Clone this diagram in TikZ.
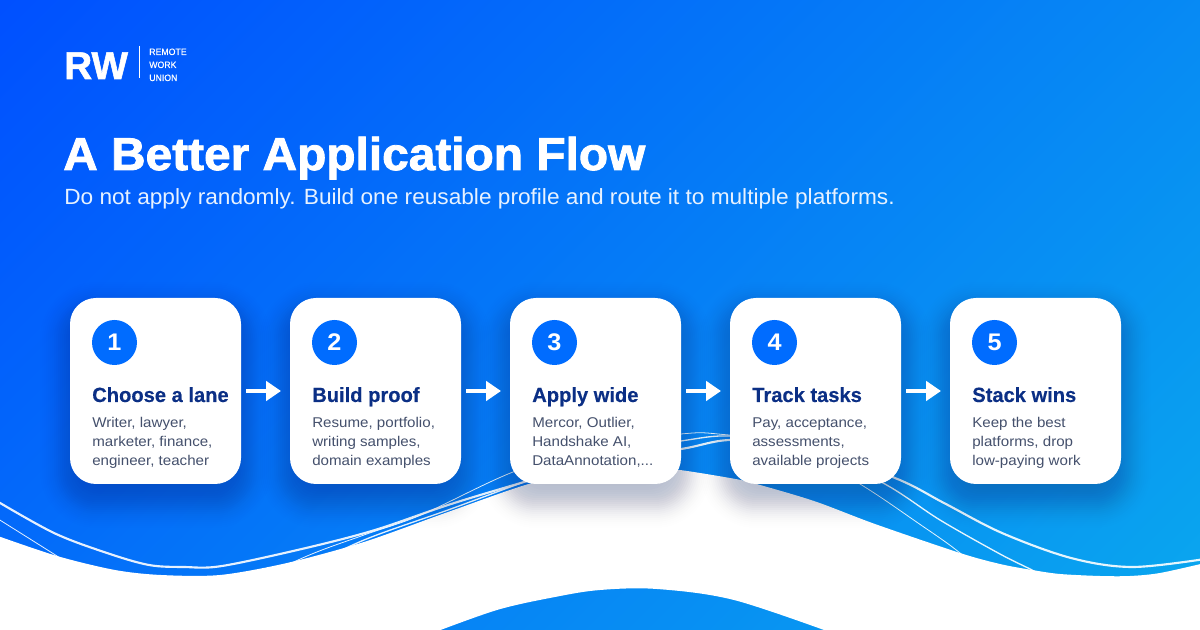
\documentclass[tikz,border=0pt]{standalone}
\usepackage{fontspec}
\usetikzlibrary{arrows.meta}
\setmainfont{Liberation Sans}
\newfontfamily\uiface[FakeStretch=1.07]{Liberation Sans}
\newfontfamily\uisub[FakeStretch=1.03]{Liberation Sans}
\newfontfamily\uibrand[FakeStretch=.95,FakeBold=.3]{Liberation Sans}
\newfontfamily\uibold[FakeStretch=.98,FakeBold=.3]{Liberation Sans Bold}
\newfontfamily\uinum[FakeStretch=1.05]{Liberation Sans Bold}
\newfontfamily\uiheavy[FakeStretch=1.04,FakeBold=1.8]{Liberation Sans Bold}
\newfontfamily\uilogo[FakeStretch=1.0,FakeBold=1.4]{Liberation Sans Bold}
\definecolor{bgA}{HTML}{0050FF}
\definecolor{bgB}{HTML}{0AA8EE}
\definecolor{badge}{HTML}{006CFF}
\definecolor{cardhead}{HTML}{0B2F85}
\definecolor{cardbody}{HTML}{44506C}
\definecolor{shadowc}{HTML}{0A1F5C}
\definecolor{subtitlec}{HTML}{E8F2FF}
\pgfdeclarehorizontalshading{pagegrad}{100bp}{color(0bp)=(bgA); color(37.5bp)=(bgA); color(62.5bp)=(bgB); color(100bp)=(bgB)}
\tikzset{
  cardbox/.style={fill=white,rounded corners=19.5pt,minimum width=128.25pt,minimum height=139.5pt,inner sep=0pt,outer sep=0pt},
  numdisc/.style={circle,fill=badge,minimum size=33.75pt,inner sep=0pt,text=white,font=\uinum\fontsize{18}{18}\selectfont},
  cardtitle/.style={anchor=base west,inner sep=0pt,text=cardhead,font=\uibold\fontsize{15.4}{18}\selectfont},
  cardtext/.style={anchor=base west,inner sep=0pt,text=cardbody,font=\uiface\fontsize{10.6}{14}\selectfont},
  flowarrow/.style={draw=white,line width=3pt,-{Triangle[length=11.25pt,width=14.5pt]},shorten <=3.75pt,shorten >=6.75pt},
  waveline/.style={draw=white,opacity=.9,smooth,tension=.55},
  brand/.style={anchor=base west,inner sep=0pt,text=white,font=\uibrand\fontsize{6.9}{9}\selectfont},
}
\begin{document}
\begin{tikzpicture}[x=0.75pt,y=-0.75pt]
\useasboundingbox (0,0) rectangle (1200,630);
\begin{scope}
\clip (0,0) rectangle (1200,630);
\shade[shading=pagegrad,shading angle=-45] (-694,-979) rectangle (1894,1609);
% wave lines
\draw[waveline,line width=1.6pt] plot coordinates {(-5,500) (54,533) (107,553) (149,565) (184,567) (222,566) (306,548) (375,530) (448,505) (524,482) (600,460) (681,449) (730,440) (800,445) (895,478) (944,503) (1002,533) (1071,558) (1132,567) (1205,559)};
\draw[waveline,line width=1pt] plot coordinates {(298,572) (364,540) (448,510) (524,482) (600,455) (681,441) (730,436) (800,445) (883,483) (940,520) (1000,554) (1032,570) (1060,585)};
\draw[waveline,line width=.6pt] plot coordinates {(-5,517) (57,556) (110,590) (200,610) (298,560) (364,535) (421,515) (513,472) (600,445) (681,434) (718,434) (790,445) (860,484) (918,523) (960,553) (1000,590)};
% white ground with the blue hill cut out
\fill[white,even odd rule] plot[smooth,tension=.5] coordinates {(-5,535) (57,556) (115,570) (161,575) (220,575) (287,563) (364,542) (448,512) (532,483) (600,470) (650,468) (680,470) (730,478) (753,483) (814,501) (875,524) (960,553) (1000,564) (1032,570) (1060,574) (1100,576) (1130,576) (1160,573) (1205,563)} -- (1205,640) -- (-5,640) -- cycle
 plot[smooth,tension=.55] coordinates {(430,634) (497,610) (555,597) (600,590) (657,589) (734,600) (835,634)} -- cycle;
% card shadows: stacked layers with a bell-shaped weight, for a soft edge
\foreach \cx in {155.5,375.5,595.5,815.5,1035.5}{
  \foreach \g in {-18,-16,...,34}{
    \pgfmathsetmacro{\layerop}{0.0215*exp(-((\g-6)*(\g-6))/260)}
    \fill[shadowc,fill opacity=\layerop,rounded corners={(26+max(\g,0))*.75pt}]
      (\cx-85.5-\g,298+14-\g) rectangle (\cx+85.5+\g,484+14+\g);
  }
}
\end{scope}
% brand
\node[anchor=base west,inner sep=0pt,text=white,font=\uilogo\fontsize{29}{30}\selectfont] (logo) at (64,79) {RW};
\coordinate (ruleTop) at (139,46);
\coordinate (ruleBot) at (139,78);
\draw[white,line width=.75pt] (ruleTop) -- (ruleBot);
\node[brand] (b1) at (149,55) {REMOTE};
\node[brand] (b2) at (149,68) {WORK};
\node[brand] (b3) at (149,81) {UNION};
% heading
\node[anchor=base west,inner sep=0pt,text=white,font=\uiheavy\fontsize{34.5}{40}\selectfont] (title) at (63,170) {A Better Application Flow};
\node[anchor=base west,inner sep=0pt,text=subtitlec,font=\uisub\fontsize{16.5}{20}\selectfont] (subtitle) at (64,205) {Do not apply randomly. Build one reusable profile and route it to multiple platforms.};
% cards
\node[cardbox] (c1) at (155.5,391) {};
\node[cardbox] (c2) at (375.5,391) {};
\node[cardbox] (c3) at (595.5,391) {};
\node[cardbox] (c4) at (815.5,391) {};
\node[cardbox] (c5) at (1035.5,391) {};
\node[numdisc] (n1) at (114.5,342.5) {1};
\node[numdisc] (n2) at (334.5,342.5) {2};
\node[numdisc] (n3) at (554.5,342.5) {3};
\node[numdisc] (n4) at (774.5,342.5) {4};
\node[numdisc] (n5) at (994.5,342.5) {5};
\node[cardtitle] (h1) at (92,402) {Choose a lane};
\node[cardtitle] (h2) at (312,402) {Build proof};
\node[cardtitle] (h3) at (532,402) {Apply wide};
\node[cardtitle] (h4) at (752,402) {Track tasks};
\node[cardtitle] (h5) at (972,402) {Stack wins};
\node[cardtext] (t11) at (92,428) {Writer, lawyer,};
\node[cardtext] (t12) at (92,447) {marketer, finance,};
\node[cardtext] (t13) at (92,466) {engineer, teacher};
\node[cardtext] (t21) at (312,428) {Resume, portfolio,};
\node[cardtext] (t22) at (312,447) {writing samples,};
\node[cardtext] (t23) at (312,466) {domain examples};
\node[cardtext] (t31) at (532,428) {Mercor, Outlier,};
\node[cardtext] (t32) at (532,447) {Handshake AI,};
\node[cardtext] (t33) at (532,466) {DataAnnotation,...};
\node[cardtext] (t41) at (752,428) {Pay, acceptance,};
\node[cardtext] (t42) at (752,447) {assessments,};
\node[cardtext] (t43) at (752,466) {available projects};
\node[cardtext] (t51) at (972,428) {Keep the best};
\node[cardtext] (t52) at (972,447) {platforms, drop};
\node[cardtext] (t53) at (972,466) {low-paying work};
% arrows
\draw[flowarrow] (c1) -- (c2);
\draw[flowarrow] (c2) -- (c3);
\draw[flowarrow] (c3) -- (c4);
\draw[flowarrow] (c4) -- (c5);
\end{tikzpicture}
\end{document}
